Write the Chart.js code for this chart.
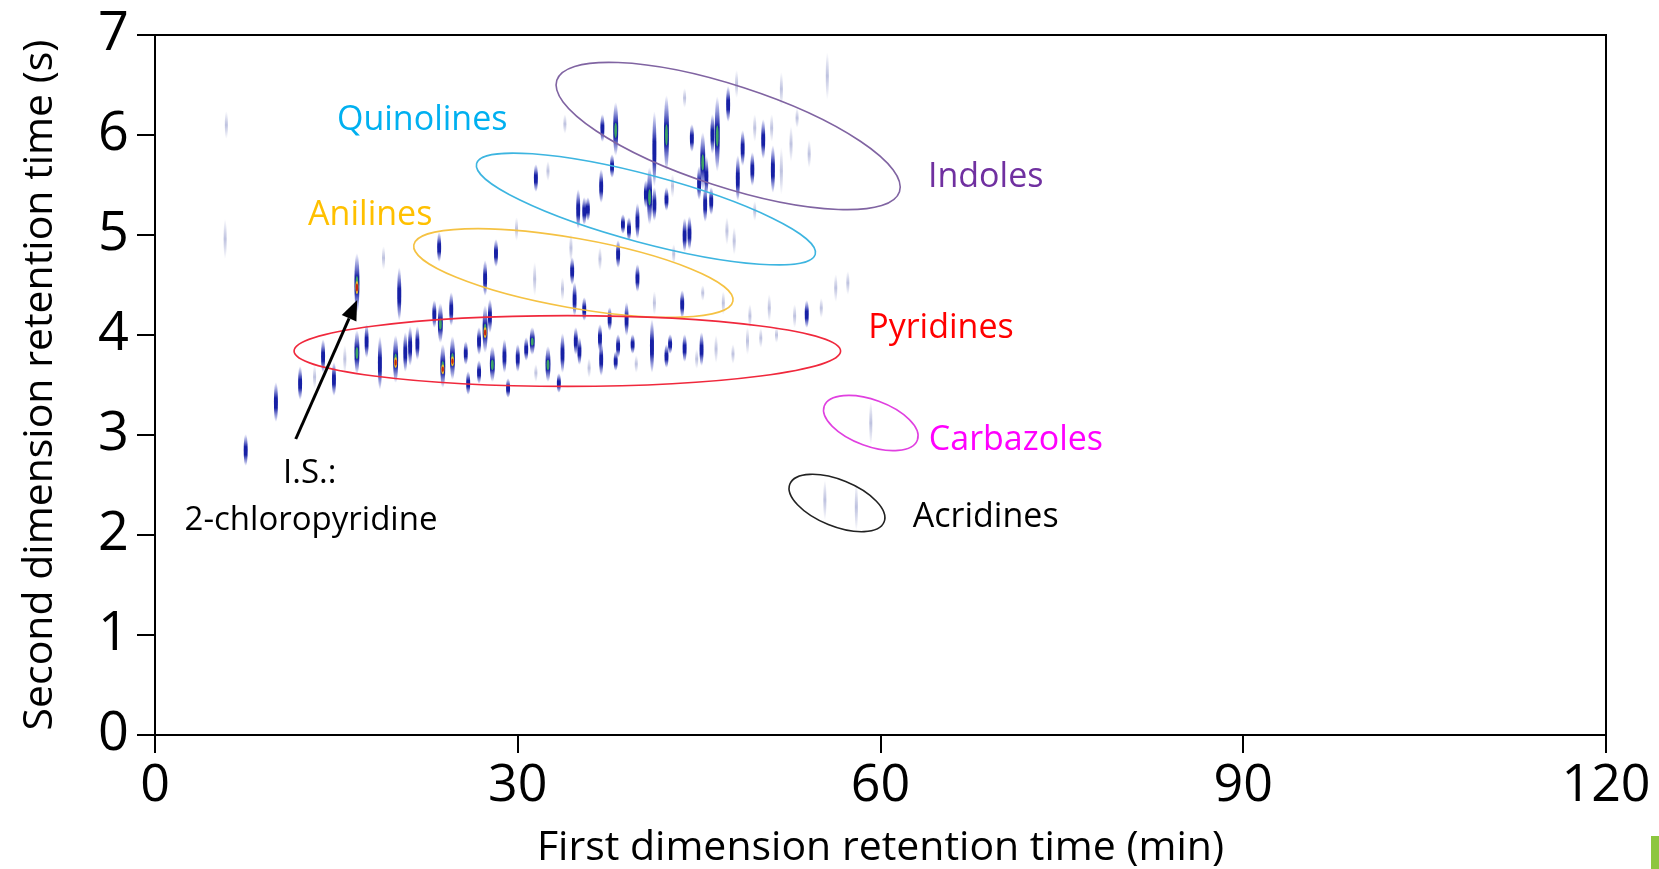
<!DOCTYPE html>
<html>
<head>
<meta charset="utf-8">
<title>GCxGC nitrogen compounds</title>
<script src="https://cdn.jsdelivr.net/npm/chart.js@4.4.1/dist/chart.umd.min.js"></script>
<style>
  html, body { margin: 0; padding: 0; background: #fff; }
  #wrap { position: relative; width: 1659px; height: 869px; }
  #corner { position: absolute; left: 1651px; top: 836px; width: 8px; height: 33px; background: #8dc63f; }
</style>
</head>
<body>
<div id="wrap">
  <canvas id="gcxgc" width="1659" height="869"></canvas>
  <div id="corner"></div>
</div>
<script>
// axis ticks
const xTicks = [0, 30, 60, 90, 120];
const yTicks = [0, 1, 2, 3, 4, 5, 6, 7];

// peaks: 1D time (min), 2D time (s), half length of the streak (s), intensity level 0-3
const peakX = [
  5.8, 5.9, 7.5, 10.0, 12.0, 13.2, 13.9, 14.8, 15.7, 16.7, 16.7, 17.5, 18.6, 18.9, 19.9, 20.2,
  20.7, 21.1, 21.7, 23.1, 23.6, 23.8, 23.5, 24.5, 24.6, 25.7, 25.9, 26.8, 26.8, 27.3, 27.3, 27.7,
  27.9, 28.9, 28.2, 29.2, 29.9, 30.0, 30.7, 31.2, 31.4, 31.5, 31.5, 32.5, 32.5, 33.4, 33.7, 33.7,
  33.9, 34.4, 34.5, 34.7, 34.8, 35.0, 35.1, 35.5, 35.5, 35.8, 35.9, 36.8, 36.8, 36.9, 36.9, 37.0,
  37.6, 37.8, 38.1, 38.1, 38.3, 38.3, 38.7, 39.0, 39.2, 39.5, 39.8, 39.9, 39.9, 40.6, 40.9, 41.1,
  41.3, 41.3, 41.3, 42.3, 42.3, 42.3, 42.6, 42.8, 42.9, 43.6, 43.8, 43.8, 43.8, 44.2, 44.4, 44.8,
  45.0, 45.2, 45.3, 45.3, 45.5, 45.6, 46.0, 46.1, 46.4, 46.5, 47.0, 47.3, 47.4, 47.8, 47.9, 48.1,
  48.2, 48.6, 49.0, 49.2, 49.4, 49.6, 49.6, 50.1, 50.3, 50.8, 51.0, 51.1, 51.4, 51.8, 51.8, 52.6,
  52.9, 53.1, 53.9, 54.1, 55.1, 55.6, 56.3, 57.3, 59.2, 55.4, 58.0
];
const peakY = [
  4.96, 6.10, 2.85, 3.33, 3.52, 3.58, 3.79, 3.56, 3.76, 4.52, 3.83, 3.94, 3.72, 4.77, 3.76, 4.41,
  3.83, 3.89, 3.92, 4.21, 4.12, 3.69, 4.88, 4.26, 3.77, 3.82, 3.52, 3.94, 3.63, 4.06, 4.57, 4.19,
  3.71, 3.79, 4.82, 3.47, 5.06, 3.77, 3.86, 3.94, 4.56, 3.62, 5.57, 5.64, 3.71, 3.52, 3.82, 4.46,
  6.11, 4.87, 4.64, 4.36, 3.94, 5.26, 3.84, 4.26, 5.24, 5.26, 3.67, 4.76, 3.97, 3.76, 5.49, 6.07,
  4.16, 5.69, 6.06, 3.74, 3.89, 4.81, 5.11, 4.16, 5.06, 3.91, 3.71, 4.57, 5.14, 5.41, 5.39, 3.89,
  5.86, 5.31, 4.32, 6.02, 5.36, 3.79, 3.91, 5.49, 4.81, 4.31, 3.87, 5.00, 6.37, 5.02, 5.97, 3.76,
  5.52, 3.86, 5.74, 4.42, 5.31, 5.59, 5.34, 6.01, 3.86, 6.01, 4.32, 5.04, 6.31, 3.81, 4.94, 6.51,
  5.57, 5.87, 3.94, 4.19, 5.66, 6.07, 5.24, 3.97, 5.96, 4.27, 6.07, 5.66, 4.00, 6.46, 5.64, 5.91,
  4.19, 6.17, 4.21, 5.81, 4.27, 6.59, 4.47, 4.52, 3.12, 2.35, 2.28
];
const peakLen = [
  0.20, 0.14, 0.16, 0.20, 0.17, 0.12, 0.17, 0.17, 0.14, 0.30, 0.22, 0.17, 0.27, 0.12, 0.24, 0.27,
  0.20, 0.20, 0.17, 0.14, 0.20, 0.22, 0.15, 0.17, 0.22, 0.12, 0.12, 0.14, 0.12, 0.24, 0.18, 0.17,
  0.18, 0.17, 0.14, 0.10, 0.12, 0.14, 0.12, 0.14, 0.17, 0.09, 0.14, 0.10, 0.18, 0.10, 0.20, 0.12,
  0.10, 0.14, 0.14, 0.17, 0.14, 0.20, 0.14, 0.12, 0.14, 0.12, 0.10, 0.12, 0.14, 0.17, 0.17, 0.14,
  0.12, 0.12, 0.27, 0.10, 0.12, 0.14, 0.10, 0.17, 0.12, 0.10, 0.09, 0.14, 0.18, 0.14, 0.29, 0.27,
  0.38, 0.17, 0.12, 0.38, 0.12, 0.12, 0.10, 0.12, 0.10, 0.14, 0.14, 0.17, 0.10, 0.17, 0.14, 0.10,
  0.17, 0.17, 0.29, 0.08, 0.18, 0.20, 0.14, 0.20, 0.14, 0.38, 0.12, 0.14, 0.18, 0.10, 0.14, 0.14,
  0.23, 0.18, 0.14, 0.12, 0.17, 0.14, 0.10, 0.10, 0.20, 0.14, 0.14, 0.24, 0.08, 0.17, 0.24, 0.18,
  0.12, 0.10, 0.14, 0.14, 0.10, 0.24, 0.14, 0.12, 0.22, 0.20, 0.24
];
const peakLevel = [
  0, 0, 1, 1, 1, 0, 1, 1, 0, 3, 2, 1, 1, 0, 3, 1,
  1, 1, 1, 1, 2, 3, 1, 1, 3, 1, 1, 1, 1, 3, 1, 1,
  2, 1, 1, 1, 0, 1, 1, 2, 0, 0, 1, 0, 2, 1, 1, 0,
  0, 0, 1, 1, 1, 1, 1, 1, 1, 1, 0, 0, 1, 1, 1, 1,
  1, 1, 2, 1, 1, 1, 1, 1, 1, 1, 0, 1, 1, 1, 2, 1,
  1, 1, 0, 2, 1, 1, 1, 0, 0, 1, 1, 1, 0, 1, 1, 0,
  1, 1, 2, 0, 1, 1, 1, 1, 0, 2, 0, 0, 1, 0, 0, 0,
  1, 1, 0, 0, 1, 0, 0, 0, 1, 0, 0, 1, 0, 0, 0, 0,
  0, 0, 1, 0, 0, 0, 0, 0, 0, 0, 0
];

// compound class ellipses: centre, semi-axes (min, s), tilt (deg)
const groupNames = ['Indoles', 'Quinolines', 'Anilines', 'Pyridines', 'Carbazoles', 'Acridines'];
const groupCx    = [47.4, 40.6, 34.6, 34.1, 59.2, 56.4];
const groupCy    = [5.99, 5.26, 4.62, 3.84, 3.12, 2.32];
const groupRx    = [14.9, 14.5, 13.4, 22.6, 4.1, 4.2];
const groupRy    = [0.507, 0.338, 0.348, 0.354, 0.232, 0.232];
const groupTilt  = [18, 15, 10, 0, 20, 22];
const groupLineColors = ['#8064a2', '#3db5e0', '#f5c243', '#f0283c', '#e040e0', '#222222'];

// class labels (centre positions, data units)
const labelText  = ['Quinolines', 'Indoles', 'Anilines', 'Pyridines', 'Carbazoles', 'Acridines', 'I.S.:', '2-chloropyridine'];
const labelX     = [22.1, 68.7, 17.8, 65.0, 71.2, 68.7, 12.8, 12.9];
const labelY     = [6.15, 5.58, 5.20, 4.07, 2.95, 2.18, 2.61, 2.14];
const labelColor = ['#00b0f0', '#7030a0', '#ffc000', '#ff0000', '#ff00ff', '#000000', '#000000', '#000000'];

// internal standard arrow (tail -> head)
const arrowFrom = [11.64, 2.96];
const arrowTo   = [16.72, 4.35];

const FONT = '"Open Sans", "Noto Sans", sans-serif';

const peakPlugin = {
    id: 'peaks',
    afterDatasetsDraw(chart) {
        const { ctx } = chart;
        const yScale = chart.scales.y;
        const meta = chart.getDatasetMeta(0);
        ctx.save();
        meta.data.forEach((pt, i) => {
            const px = pt.x, py = pt.y;
            const hl = Math.abs(yScale.getPixelForValue(peakY[i] + peakLen[i]) - py);
            const lvl = peakLevel[i];
            const hw = lvl === 0 ? 1.5 : (lvl === 1 ? 2.0 : 2.5);
            const g = ctx.createLinearGradient(0, py - hl, 0, py + hl);
            if (lvl === 0) {
                g.addColorStop(0, 'rgba(90,100,175,0)');
                g.addColorStop(0.5, 'rgba(90,100,175,0.4)');
                g.addColorStop(1, 'rgba(90,100,175,0)');
            } else {
                g.addColorStop(0, 'rgba(60,70,190,0)');
                g.addColorStop(0.15, 'rgba(50,60,185,0.4)');
                g.addColorStop(0.4, 'rgba(10,20,160,0.95)');
                g.addColorStop(0.65, 'rgba(10,20,160,0.95)');
                g.addColorStop(0.88, 'rgba(50,60,185,0.4)');
                g.addColorStop(1, 'rgba(60,70,190,0)');
            }
            ctx.fillStyle = g;
            ctx.beginPath();
            ctx.ellipse(px, py, hw, hl, 0, 0, Math.PI * 2);
            ctx.fill();
            if (lvl >= 2) {
                ctx.fillStyle = 'rgba(70,190,90,0.85)';
                ctx.beginPath();
                ctx.ellipse(px, py + hl * 0.05, hw * 0.55, hl * 0.28, 0, 0, Math.PI * 2);
                ctx.fill();
            }
            if (lvl === 3) {
                ctx.fillStyle = 'rgba(240,190,40,0.95)';
                ctx.beginPath();
                ctx.ellipse(px, py + hl * 0.15, hw * 0.6, hl * 0.22, 0, 0, Math.PI * 2);
                ctx.fill();
                ctx.fillStyle = 'rgba(200,30,10,0.95)';
                ctx.beginPath();
                ctx.ellipse(px, py + hl * 0.15, hw * 0.45, hl * 0.13, 0, 0, Math.PI * 2);
                ctx.fill();
            }
        });
        ctx.restore();
    }
};

const annotationPlugin = {
    id: 'annotations',
    afterDraw(chart) {
        const { ctx, chartArea: a } = chart;
        const xs = chart.scales.x, ys = chart.scales.y;

        ctx.save();
        // frame (top and right sides)
        ctx.strokeStyle = '#000';
        ctx.lineWidth = 2;
        ctx.strokeRect(a.left, a.top, a.right - a.left, a.bottom - a.top);

        // ellipses
        groupNames.forEach((name, i) => {
            const cx = xs.getPixelForValue(groupCx[i]);
            const cy = ys.getPixelForValue(groupCy[i]);
            const rx = Math.abs(xs.getPixelForValue(groupCx[i] + groupRx[i]) - cx);
            const ry = Math.abs(ys.getPixelForValue(groupCy[i] + groupRy[i]) - cy);
            ctx.strokeStyle = groupLineColors[i];
            ctx.lineWidth = 1.6;
            ctx.beginPath();
            ctx.ellipse(cx, cy, rx, ry, groupTilt[i] * Math.PI / 180, 0, Math.PI * 2);
            ctx.stroke();
        });

        // arrow to internal standard
        const x0 = xs.getPixelForValue(arrowFrom[0]), y0 = ys.getPixelForValue(arrowFrom[1]);
        const x1 = xs.getPixelForValue(arrowTo[0]),   y1 = ys.getPixelForValue(arrowTo[1]);
        const ang = Math.atan2(y1 - y0, x1 - x0);
        const headLen = 20, headW = 8;
        const bx = x1 - headLen * Math.cos(ang), by = y1 - headLen * Math.sin(ang);
        ctx.strokeStyle = '#000';
        ctx.lineWidth = 3;
        ctx.beginPath();
        ctx.moveTo(x0, y0);
        ctx.lineTo(bx, by);
        ctx.stroke();
        ctx.fillStyle = '#000';
        ctx.beginPath();
        ctx.moveTo(x1, y1);
        ctx.lineTo(bx + headW * Math.sin(ang), by - headW * Math.cos(ang));
        ctx.lineTo(bx - headW * Math.sin(ang), by + headW * Math.cos(ang));
        ctx.closePath();
        ctx.fill();

        // labels
        ctx.textAlign = 'center';
        ctx.textBaseline = 'middle';
        labelText.forEach((t, i) => {
            ctx.font = (i >= 6 ? '33px ' : '34px ') + FONT;
            ctx.fillStyle = labelColor[i];
            ctx.fillText(t, xs.getPixelForValue(labelX[i]), ys.getPixelForValue(labelY[i]));
        });
        ctx.restore();
    }
};

const axisCommon = {
    grid: { drawOnChartArea: false, drawTicks: true, tickLength: 18, color: '#000', lineWidth: 2 },
    border: { color: '#000', width: 2 }
};

new Chart(document.getElementById('gcxgc'), {
    type: 'scatter',
    data: {
        datasets: [{
            label: 'peaks',
            data: peakX.map((x, i) => ({ x: x, y: peakY[i] })),
            pointRadius: 0,
            pointHoverRadius: 0
        }]
    },
    options: {
        responsive: false,
        animation: false,
        layout: { padding: { top: 34, right: 53, left: 0, bottom: 0 } },
        plugins: { legend: { display: false }, tooltip: { enabled: false } },
        scales: {
            x: {
                ...axisCommon,
                type: 'linear',
                min: xTicks[0],
                max: xTicks[xTicks.length - 1],
                afterBuildTicks: s => { s.ticks = xTicks.map(v => ({ value: v })); },
                ticks: { color: '#000', font: { family: FONT, size: 52 }, padding: 2, maxRotation: 0, autoSkip: false },
                title: { display: true, text: 'First dimension retention time (min)', color: '#000',
                         font: { family: FONT, size: 41, lineHeight: 1.0 }, padding: { top: 0, bottom: 0 } },
                afterFit: s => { s.height = 134; }
            },
            y: {
                ...axisCommon,
                type: 'linear',
                min: yTicks[0],
                max: yTicks[yTicks.length - 1],
                afterBuildTicks: s => { s.ticks = yTicks.map(v => ({ value: v })); },
                ticks: { color: '#000', font: { family: FONT, size: 54, lineHeight: 1.0 }, padding: 8, autoSkip: false },
                title: { display: true, text: 'Second dimension retention time (s)', color: '#000',
                         font: { family: FONT, size: 41 }, padding: { top: 16, bottom: 0 } },
                afterFit: s => { s.width = 155; }
            }
        }
    },
    plugins: [peakPlugin, annotationPlugin]
});
</script>
</body>
</html>
